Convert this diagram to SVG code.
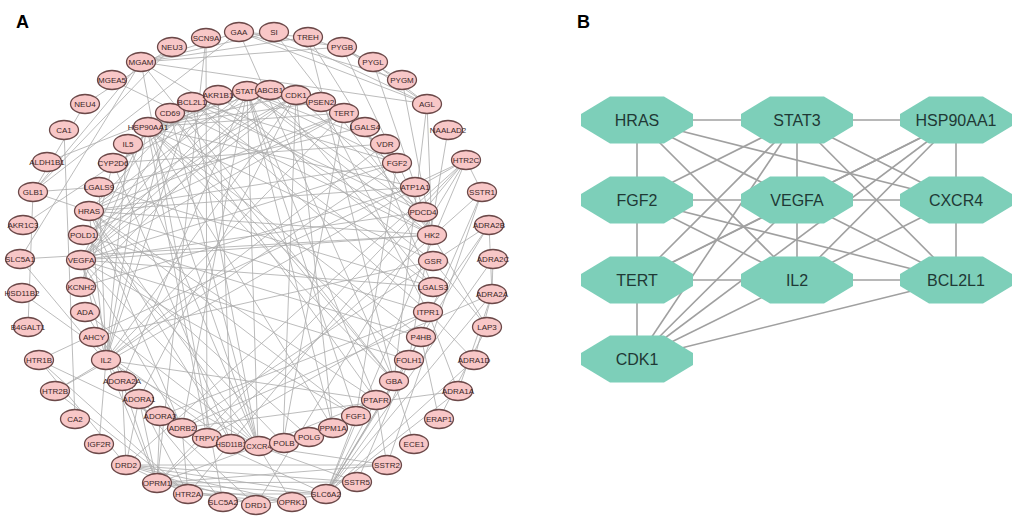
<svg xmlns="http://www.w3.org/2000/svg" xmlns:xlink="http://www.w3.org/1999/xlink" width="1021" height="526" viewBox="0 0 1021 526">
<style>
.ea path{stroke:#ababab;stroke-width:0.8;fill:none}
.eb path{stroke:#a0a0a0;stroke-width:1.6;fill:none}
.na ellipse{fill:#f8c7c7;stroke:#6b4848;stroke-width:1.3}
.na text{font-family:"Liberation Sans",Arial,sans-serif;font-size:8px;fill:#3a2626;text-anchor:middle}
.nb use{fill:#7dcfb9}
.nb text{font-family:"Liberation Sans",Arial,sans-serif;font-size:16px;fill:#1f3935;text-anchor:middle}
.title{font-family:"Liberation Sans",Arial,sans-serif;font-size:18px;font-weight:bold;fill:#000}
</style>
<defs>
<polygon id="oct" points="-27,-23.5 27,-23.5 56,-6 56,6 27,23.5 -27,23.5 -56,6 -56,-6"/>
</defs>
<rect width="1021" height="526" fill="#fff"/>
<text class="title" x="16" y="28">A</text>
<text class="title" x="577" y="28">B</text>

<g id="connectors-a" class="ea">
<path d="M89 211L247 91"/><path d="M247 91L147 127"/><path d="M89 211L397 163"/><path d="M397 163L344 113"/><path d="M344 113L296 95"/><path d="M247 91L81 260"/><path d="M81 260L106 360"/><path d="M147 127L258 446"/><path d="M258 446L192 102"/><path d="M397 163L81 260"/><path d="M81 260L258 446"/><path d="M344 113L106 360"/><path d="M106 360L192 102"/><path d="M89 211L258 446"/><path d="M89 211L106 360"/><path d="M247 91L397 163"/><path d="M247 91L344 113"/><path d="M247 91L258 446"/><path d="M147 127L81 260"/><path d="M147 127L106 360"/><path d="M147 127L344 113"/><path d="M147 127L296 95"/><path d="M296 95L81 260"/><path d="M296 95L106 360"/><path d="M344 113L81 260"/><path d="M397 163L106 360"/><path d="M397 163L192 102"/><path d="M81 260L192 102"/><path d="M258 446L106 360"/>
<path d="M128 144L106 360"/><path d="M128 144L247 91"/><path d="M128 144L258 446"/><path d="M170 113L106 360"/><path d="M170 113L258 446"/><path d="M170 113L376 400"/><path d="M270 90L81 260"/><path d="M270 90L147 127"/><path d="M270 90L113 163"/><path d="M270 90L81 287"/><path d="M270 90L433 287"/><path d="M321 102L147 127"/><path d="M321 102L428 312"/><path d="M365 127L433 287"/><path d="M365 127L99 187"/><path d="M99 187L433 287"/><path d="M99 187L106 360"/><path d="M433 287L81 260"/><path d="M433 287L192 102"/><path d="M385 144L247 91"/><path d="M385 144L106 360"/><path d="M385 144L113 163"/><path d="M415 187L147 127"/><path d="M415 187L81 287"/><path d="M415 187L89 211"/><path d="M423 212L247 91"/><path d="M423 212L296 95"/><path d="M423 212L81 260"/><path d="M423 212L192 102"/><path d="M432 235L81 260"/><path d="M432 235L247 91"/><path d="M432 235L89 211"/><path d="M433 261L94 337"/><path d="M433 261L147 127"/><path d="M428 312L192 102"/><path d="M428 312L89 211"/><path d="M421 337L147 127"/><path d="M421 337L83 235"/><path d="M409 360L81 260"/><path d="M409 360L147 127"/><path d="M394 381L147 127"/><path d="M394 381L170 113"/><path d="M376 400L247 91"/><path d="M376 400L106 360"/><path d="M376 400L89 211"/><path d="M356 416L397 163"/><path d="M356 416L81 260"/><path d="M356 416L89 211"/><path d="M356 416L247 91"/><path d="M333 428L247 91"/><path d="M333 428L296 95"/><path d="M333 428L147 127"/><path d="M309 437L83 235"/><path d="M283 443L83 235"/><path d="M283 443L296 95"/><path d="M283 443L344 113"/><path d="M207 438L147 127"/><path d="M207 438L428 312"/><path d="M182 428L247 91"/><path d="M182 428L89 211"/><path d="M182 428L81 260"/><path d="M160 416L428 312"/><path d="M122 381L81 260"/><path d="M122 381L247 91"/><path d="M139 399L296 95"/><path d="M85 312L139 399"/><path d="M85 312L258 446"/><path d="M81 287L147 127"/><path d="M81 287L113 163"/><path d="M83 235L296 95"/><path d="M83 235L344 113"/><path d="M113 163L232 444"/><path d="M232 444L89 211"/><path d="M192 102L89 211"/><path d="M218 95L81 260"/><path d="M218 95L232 444"/><path d="M218 95L433 261"/><path d="M296 95L89 211"/><path d="M344 113L89 211"/><path d="M258 446L376 400"/>
<path d="M274 32L141 62"/><path d="M274 32L432 235"/><path d="M274 32L427 104"/><path d="M239 32L141 62"/><path d="M239 32L394 381"/><path d="M239 32L427 104"/><path d="M239 32L33 192"/><path d="M239 32L308 37"/><path d="M239 32L402 80"/><path d="M141 62L308 37"/><path d="M141 62L427 104"/><path d="M141 62L432 235"/><path d="M141 62L394 381"/><path d="M141 62L342 47"/><path d="M141 62L33 192"/><path d="M141 62L20 259"/><path d="M141 62L223 502"/><path d="M308 37L373 62"/><path d="M308 37L394 381"/><path d="M308 37L432 235"/><path d="M342 47L402 80"/><path d="M342 47L427 104"/><path d="M342 47L432 235"/><path d="M342 47L239 32"/><path d="M373 62L427 104"/><path d="M373 62L432 235"/><path d="M402 80L432 235"/><path d="M427 104L432 235"/><path d="M427 104L394 381"/><path d="M172 47L85 104"/><path d="M172 47L33 192"/><path d="M85 104L33 192"/><path d="M112 80L432 235"/><path d="M206 38L207 438"/><path d="M206 38L157 483"/><path d="M448 130L409 360"/><path d="M466 160L188 494"/><path d="M466 160L39 360"/><path d="M466 160L55 391"/><path d="M466 160L126 465"/><path d="M466 160L482 192"/><path d="M466 160L326 494"/><path d="M466 160L256 505"/><path d="M466 160L157 483"/><path d="M482 192L387 465"/><path d="M482 192L357 482"/><path d="M482 192L157 483"/><path d="M489 225L492 294"/><path d="M489 225L428 312"/><path d="M489 225L182 428"/><path d="M489 225L326 494"/><path d="M493 259L492 294"/><path d="M493 259L326 494"/><path d="M492 294L458 391"/><path d="M492 294L182 428"/><path d="M492 294L326 494"/><path d="M487 327L439 419"/><path d="M487 327L433 261"/><path d="M487 327L432 235"/><path d="M474 360L326 494"/><path d="M474 360L492 294"/><path d="M474 360L428 312"/><path d="M458 391L326 494"/><path d="M458 391L182 428"/><path d="M458 391L428 312"/><path d="M439 419L421 337"/><path d="M414 444L394 381"/><path d="M387 465L126 465"/><path d="M387 465L157 483"/><path d="M387 465L376 400"/><path d="M387 465L258 446"/><path d="M357 482L126 465"/><path d="M357 482L157 483"/><path d="M357 482L258 446"/><path d="M326 494L256 505"/><path d="M326 494L126 465"/><path d="M326 494L157 483"/><path d="M326 494L188 494"/><path d="M326 494L356 416"/><path d="M326 494L376 400"/><path d="M326 494L394 381"/><path d="M326 494L409 360"/><path d="M326 494L182 428"/><path d="M292 502L157 483"/><path d="M292 502L126 465"/><path d="M292 502L258 446"/><path d="M292 502L188 494"/><path d="M256 505L126 465"/><path d="M256 505L139 399"/><path d="M256 505L157 483"/><path d="M223 502L20 259"/><path d="M188 494L55 391"/><path d="M188 494L126 465"/><path d="M188 494L39 360"/><path d="M188 494L182 428"/><path d="M188 494L139 399"/><path d="M157 483L139 399"/><path d="M157 483L258 446"/><path d="M157 483L122 381"/><path d="M157 483L106 360"/><path d="M157 483L160 416"/><path d="M126 465L122 381"/><path d="M126 465L139 399"/><path d="M126 465L39 360"/><path d="M99 444L106 360"/><path d="M75 419L64 130"/><path d="M55 391L106 360"/><path d="M39 360L182 428"/><path d="M28 327L33 192"/><path d="M22 293L232 444"/><path d="M20 259L432 235"/><path d="M23 225L218 95"/><path d="M33 192L89 211"/><path d="M33 192L99 187"/><path d="M47 162L218 95"/>
</g>

<g id="nodes-a">
<g id="a-SI" class="na" transform="translate(274,32)"><ellipse rx="14.5" ry="9.5"/><text y="2.9">SI</text></g>
<g id="a-TREH" class="na" transform="translate(308,37)"><ellipse rx="14.5" ry="9.5"/><text y="2.9">TREH</text></g>
<g id="a-PYGB" class="na" transform="translate(342,47)"><ellipse rx="14.5" ry="9.5"/><text y="2.9">PYGB</text></g>
<g id="a-PYGL" class="na" transform="translate(373,62)"><ellipse rx="14.5" ry="9.5"/><text y="2.9">PYGL</text></g>
<g id="a-PYGM" class="na" transform="translate(402,80)"><ellipse rx="14.5" ry="9.5"/><text y="2.9">PYGM</text></g>
<g id="a-AGL" class="na" transform="translate(427,104)"><ellipse rx="14.5" ry="9.5"/><text y="2.9">AGL</text></g>
<g id="a-NAALAD2" class="na" transform="translate(448,130)"><ellipse rx="14.5" ry="9.5"/><text y="2.9">NAALAD2</text></g>
<g id="a-HTR2C" class="na" transform="translate(466,160)"><ellipse rx="14.5" ry="9.5"/><text y="2.9">HTR2C</text></g>
<g id="a-SSTR1" class="na" transform="translate(482,192)"><ellipse rx="14.5" ry="9.5"/><text y="2.9">SSTR1</text></g>
<g id="a-ADRA2B" class="na" transform="translate(489,225)"><ellipse rx="14.5" ry="9.5"/><text y="2.9">ADRA2B</text></g>
<g id="a-ADRA2C" class="na" transform="translate(493,259)"><ellipse rx="14.5" ry="9.5"/><text y="2.9">ADRA2C</text></g>
<g id="a-ADRA2A" class="na" transform="translate(492,294)"><ellipse rx="14.5" ry="9.5"/><text y="2.9">ADRA2A</text></g>
<g id="a-LAP3" class="na" transform="translate(487,327)"><ellipse rx="14.5" ry="9.5"/><text y="2.9">LAP3</text></g>
<g id="a-ADRA1D" class="na" transform="translate(474,360)"><ellipse rx="14.5" ry="9.5"/><text y="2.9">ADRA1D</text></g>
<g id="a-ADRA1A" class="na" transform="translate(458,391)"><ellipse rx="14.5" ry="9.5"/><text y="2.9">ADRA1A</text></g>
<g id="a-ERAP1" class="na" transform="translate(439,419)"><ellipse rx="14.5" ry="9.5"/><text y="2.9">ERAP1</text></g>
<g id="a-ECE1" class="na" transform="translate(414,444)"><ellipse rx="14.5" ry="9.5"/><text y="2.9">ECE1</text></g>
<g id="a-SSTR2" class="na" transform="translate(387,465)"><ellipse rx="14.5" ry="9.5"/><text y="2.9">SSTR2</text></g>
<g id="a-SSTR5" class="na" transform="translate(357,482)"><ellipse rx="14.5" ry="9.5"/><text y="2.9">SSTR5</text></g>
<g id="a-SLC6A2" class="na" transform="translate(326,494)"><ellipse rx="14.5" ry="9.5"/><text y="2.9">SLC6A2</text></g>
<g id="a-OPRK1" class="na" transform="translate(292,502)"><ellipse rx="14.5" ry="9.5"/><text y="2.9">OPRK1</text></g>
<g id="a-DRD1" class="na" transform="translate(256,505)"><ellipse rx="14.5" ry="9.5"/><text y="2.9">DRD1</text></g>
<g id="a-SLC5A2" class="na" transform="translate(223,502)"><ellipse rx="14.5" ry="9.5"/><text y="2.9">SLC5A2</text></g>
<g id="a-HTR2A" class="na" transform="translate(188,494)"><ellipse rx="14.5" ry="9.5"/><text y="2.9">HTR2A</text></g>
<g id="a-OPRM1" class="na" transform="translate(157,483)"><ellipse rx="14.5" ry="9.5"/><text y="2.9">OPRM1</text></g>
<g id="a-DRD2" class="na" transform="translate(126,465)"><ellipse rx="14.5" ry="9.5"/><text y="2.9">DRD2</text></g>
<g id="a-IGF2R" class="na" transform="translate(99,444)"><ellipse rx="14.5" ry="9.5"/><text y="2.9">IGF2R</text></g>
<g id="a-CA2" class="na" transform="translate(75,419)"><ellipse rx="14.5" ry="9.5"/><text y="2.9">CA2</text></g>
<g id="a-HTR2B" class="na" transform="translate(55,391)"><ellipse rx="14.5" ry="9.5"/><text y="2.9">HTR2B</text></g>
<g id="a-HTR1B" class="na" transform="translate(39,360)"><ellipse rx="14.5" ry="9.5"/><text y="2.9">HTR1B</text></g>
<g id="a-B4GALT1" class="na" transform="translate(28,327)"><ellipse rx="14.5" ry="9.5"/><text y="2.9">B4GALT1</text></g>
<g id="a-HSD11B2" class="na" transform="translate(22,293)"><ellipse rx="14.5" ry="9.5"/><text y="2.9">HSD11B2</text></g>
<g id="a-SLC5A1" class="na" transform="translate(20,259)"><ellipse rx="14.5" ry="9.5"/><text y="2.9">SLC5A1</text></g>
<g id="a-AKR1C3" class="na" transform="translate(23,225)"><ellipse rx="14.5" ry="9.5"/><text y="2.9">AKR1C3</text></g>
<g id="a-GLB1" class="na" transform="translate(33,192)"><ellipse rx="14.5" ry="9.5"/><text y="2.9">GLB1</text></g>
<g id="a-ALDH1B1" class="na" transform="translate(47,162)"><ellipse rx="14.5" ry="9.5"/><text y="2.9">ALDH1B1</text></g>
<g id="a-CA1" class="na" transform="translate(64,130)"><ellipse rx="14.5" ry="9.5"/><text y="2.9">CA1</text></g>
<g id="a-NEU4" class="na" transform="translate(85,104)"><ellipse rx="14.5" ry="9.5"/><text y="2.9">NEU4</text></g>
<g id="a-MGEA5" class="na" transform="translate(112,80)"><ellipse rx="14.5" ry="9.5"/><text y="2.9">MGEA5</text></g>
<g id="a-MGAM" class="na" transform="translate(141,62)"><ellipse rx="14.5" ry="9.5"/><text y="2.9">MGAM</text></g>
<g id="a-NEU3" class="na" transform="translate(172,47)"><ellipse rx="14.5" ry="9.5"/><text y="2.9">NEU3</text></g>
<g id="a-SCN9A" class="na" transform="translate(206,38)"><ellipse rx="14.5" ry="9.5"/><text y="2.9">SCN9A</text></g>
<g id="a-GAA" class="na" transform="translate(239,32)"><ellipse rx="14.5" ry="9.5"/><text y="2.9">GAA</text></g>

<g id="a-IL2" class="na" transform="translate(106,360)"><ellipse rx="14.5" ry="9.5"/><text y="2.9">IL2</text></g>
<g id="a-AHCY" class="na" transform="translate(94,337)"><ellipse rx="14.5" ry="9.5"/><text y="2.9">AHCY</text></g>
<g id="a-ADA" class="na" transform="translate(85,312)"><ellipse rx="14.5" ry="9.5"/><text y="2.9">ADA</text></g>
<g id="a-KCNH2" class="na" transform="translate(81,287)"><ellipse rx="14.5" ry="9.5"/><text y="2.9">KCNH2</text></g>
<g id="a-VEGFA" class="na" transform="translate(81,260)"><ellipse rx="14.5" ry="9.5"/><text y="2.9">VEGFA</text></g>
<g id="a-POLD1" class="na" transform="translate(83,235)"><ellipse rx="14.5" ry="9.5"/><text y="2.9">POLD1</text></g>
<g id="a-HRAS" class="na" transform="translate(89,211)"><ellipse rx="14.5" ry="9.5"/><text y="2.9">HRAS</text></g>
<g id="a-LGALS9" class="na" transform="translate(99,187)"><ellipse rx="14.5" ry="9.5"/><text y="2.9">LGALS9</text></g>
<g id="a-CYP2D6" class="na" transform="translate(113,163)"><ellipse rx="14.5" ry="9.5"/><text y="2.9">CYP2D6</text></g>
<g id="a-IL5" class="na" transform="translate(128,144)"><ellipse rx="14.5" ry="9.5"/><text y="2.9">IL5</text></g>
<g id="a-HSP90AA1" class="na" transform="translate(148,127)"><ellipse rx="14.5" ry="9.5"/><text y="2.9">HSP90AA1</text></g>
<g id="a-CD69" class="na" transform="translate(170,113)"><ellipse rx="14.5" ry="9.5"/><text y="2.9">CD69</text></g>
<g id="a-BCL2L1" class="na" transform="translate(192,102)"><ellipse rx="14.5" ry="9.5"/><text y="2.9">BCL2L1</text></g>
<g id="a-AKR1B1" class="na" transform="translate(218,95)"><ellipse rx="14.5" ry="9.5"/><text y="2.9">AKR1B1</text></g>
<g id="a-STAT3" class="na" transform="translate(247,91)"><ellipse rx="14.5" ry="9.5"/><text y="2.9">STAT3</text></g>
<g id="a-ABCB1" class="na" transform="translate(270,90)"><ellipse rx="14.5" ry="9.5"/><text y="2.9">ABCB1</text></g>
<g id="a-CDK1" class="na" transform="translate(296,95)"><ellipse rx="14.5" ry="9.5"/><text y="2.9">CDK1</text></g>
<g id="a-PSEN2" class="na" transform="translate(321,102)"><ellipse rx="14.5" ry="9.5"/><text y="2.9">PSEN2</text></g>
<g id="a-TERT" class="na" transform="translate(344,113)"><ellipse rx="14.5" ry="9.5"/><text y="2.9">TERT</text></g>
<g id="a-LGALS4" class="na" transform="translate(365,127)"><ellipse rx="14.5" ry="9.5"/><text y="2.9">LGALS4</text></g>
<g id="a-VDR" class="na" transform="translate(385,144)"><ellipse rx="14.5" ry="9.5"/><text y="2.9">VDR</text></g>
<g id="a-FGF2" class="na" transform="translate(397,163)"><ellipse rx="14.5" ry="9.5"/><text y="2.9">FGF2</text></g>
<g id="a-ATP1A1" class="na" transform="translate(415,187)"><ellipse rx="14.5" ry="9.5"/><text y="2.9">ATP1A1</text></g>
<g id="a-PDCD4" class="na" transform="translate(423,212)"><ellipse rx="14.5" ry="9.5"/><text y="2.9">PDCD4</text></g>
<g id="a-HK2" class="na" transform="translate(432,235)"><ellipse rx="14.5" ry="9.5"/><text y="2.9">HK2</text></g>
<g id="a-GSR" class="na" transform="translate(433,261)"><ellipse rx="14.5" ry="9.5"/><text y="2.9">GSR</text></g>
<g id="a-LGALS3" class="na" transform="translate(433,287)"><ellipse rx="14.5" ry="9.5"/><text y="2.9">LGALS3</text></g>
<g id="a-ITPR1" class="na" transform="translate(428,312)"><ellipse rx="14.5" ry="9.5"/><text y="2.9">ITPR1</text></g>
<g id="a-P4HB" class="na" transform="translate(421,337)"><ellipse rx="14.5" ry="9.5"/><text y="2.9">P4HB</text></g>
<g id="a-FOLH1" class="na" transform="translate(409,360)"><ellipse rx="14.5" ry="9.5"/><text y="2.9">FOLH1</text></g>
<g id="a-GBA" class="na" transform="translate(394,381)"><ellipse rx="14.5" ry="9.5"/><text y="2.9">GBA</text></g>
<g id="a-PTAFR" class="na" transform="translate(376,400)"><ellipse rx="14.5" ry="9.5"/><text y="2.9">PTAFR</text></g>
<g id="a-ADORA2A" class="na" transform="translate(122,381)"><ellipse rx="14.5" ry="9.5"/><text y="2.9">ADORA2A</text></g>
<g id="a-ADORA1" class="na" transform="translate(139,399)"><ellipse rx="14.5" ry="9.5"/><text y="2.9">ADORA1</text></g>
<g id="a-ADORA3" class="na" transform="translate(160,416)"><ellipse rx="14.5" ry="9.5"/><text y="2.9">ADORA3</text></g>
<g id="a-ADRB2" class="na" transform="translate(182,428)"><ellipse rx="14.5" ry="9.5"/><text y="2.9">ADRB2</text></g>
<g id="a-TRPV1" class="na" transform="translate(207,438)"><ellipse rx="14.5" ry="9.5"/><text y="2.9">TRPV1</text></g>
<g id="a-HSD11B1" class="na" transform="translate(231,444)"><ellipse rx="14.5" ry="9.5"/><text y="2.7" style="font-size:7px">HSD11B1</text></g>
<g id="a-CXCR4" class="na" transform="translate(259,446)"><ellipse rx="14.5" ry="9.5"/><text y="2.7" style="font-size:7.5px">CXCR4</text></g>
<g id="a-POLB" class="na" transform="translate(284,443)"><ellipse rx="14.5" ry="9.5"/><text y="2.9">POLB</text></g>
<g id="a-POLG" class="na" transform="translate(309,437)"><ellipse rx="14.5" ry="9.5"/><text y="2.9">POLG</text></g>
<g id="a-PPM1A" class="na" transform="translate(333,428)"><ellipse rx="14.5" ry="9.5"/><text y="2.9">PPM1A</text></g>
<g id="a-FGF1" class="na" transform="translate(356,416)"><ellipse rx="14.5" ry="9.5"/><text y="2.9">FGF1</text></g>
</g>

<g id="connectors-b" class="eb">
<path d="M637 120L797 120"/><path d="M797 120L956 120"/><path d="M637 120L637 200"/><path d="M637 200L637 280"/><path d="M637 280L637 359"/><path d="M797 120L797 200"/><path d="M797 200L797 280"/><path d="M956 120L956 200"/><path d="M956 200L956 280"/><path d="M637 200L797 200"/><path d="M797 200L956 200"/><path d="M637 280L797 280"/><path d="M797 280L956 280"/><path d="M637 120L956 200"/><path d="M637 120L797 200"/><path d="M637 120L797 280"/><path d="M797 120L637 200"/><path d="M797 120L637 280"/><path d="M797 120L637 359"/><path d="M797 120L956 200"/><path d="M797 120L956 280"/><path d="M956 120L797 200"/><path d="M956 120L797 280"/><path d="M956 120L637 280"/><path d="M956 120L637 359"/><path d="M637 359L797 200"/><path d="M637 359L797 280"/><path d="M637 359L956 280"/><path d="M637 280L797 200"/><path d="M637 200L797 280"/><path d="M637 200L956 280"/><path d="M797 200L956 280"/><path d="M956 200L797 280"/>
</g>

<g id="nodes-b">
<g id="b-HRAS" class="nb" transform="translate(637,120)"><use xlink:href="#oct"/><text y="5.8">HRAS</text></g>
<g id="b-STAT3" class="nb" transform="translate(797,120)"><use xlink:href="#oct"/><text y="5.8">STAT3</text></g>
<g id="b-HSP90AA1" class="nb" transform="translate(956,120)"><use xlink:href="#oct"/><text y="5.8">HSP90AA1</text></g>
<g id="b-FGF2" class="nb" transform="translate(637,200)"><use xlink:href="#oct"/><text y="5.8">FGF2</text></g>
<g id="b-VEGFA" class="nb" transform="translate(797,200)"><use xlink:href="#oct"/><text y="5.8">VEGFA</text></g>
<g id="b-CXCR4" class="nb" transform="translate(956,200)"><use xlink:href="#oct"/><text y="5.8">CXCR4</text></g>
<g id="b-TERT" class="nb" transform="translate(637,280)"><use xlink:href="#oct"/><text y="5.8">TERT</text></g>
<g id="b-IL2" class="nb" transform="translate(797,280)"><use xlink:href="#oct"/><text y="5.8">IL2</text></g>
<g id="b-BCL2L1" class="nb" transform="translate(956,280)"><use xlink:href="#oct"/><text y="5.8">BCL2L1</text></g>
<g id="b-CDK1" class="nb" transform="translate(637,359)"><use xlink:href="#oct"/><text y="5.8">CDK1</text></g>
</g>
</svg>
